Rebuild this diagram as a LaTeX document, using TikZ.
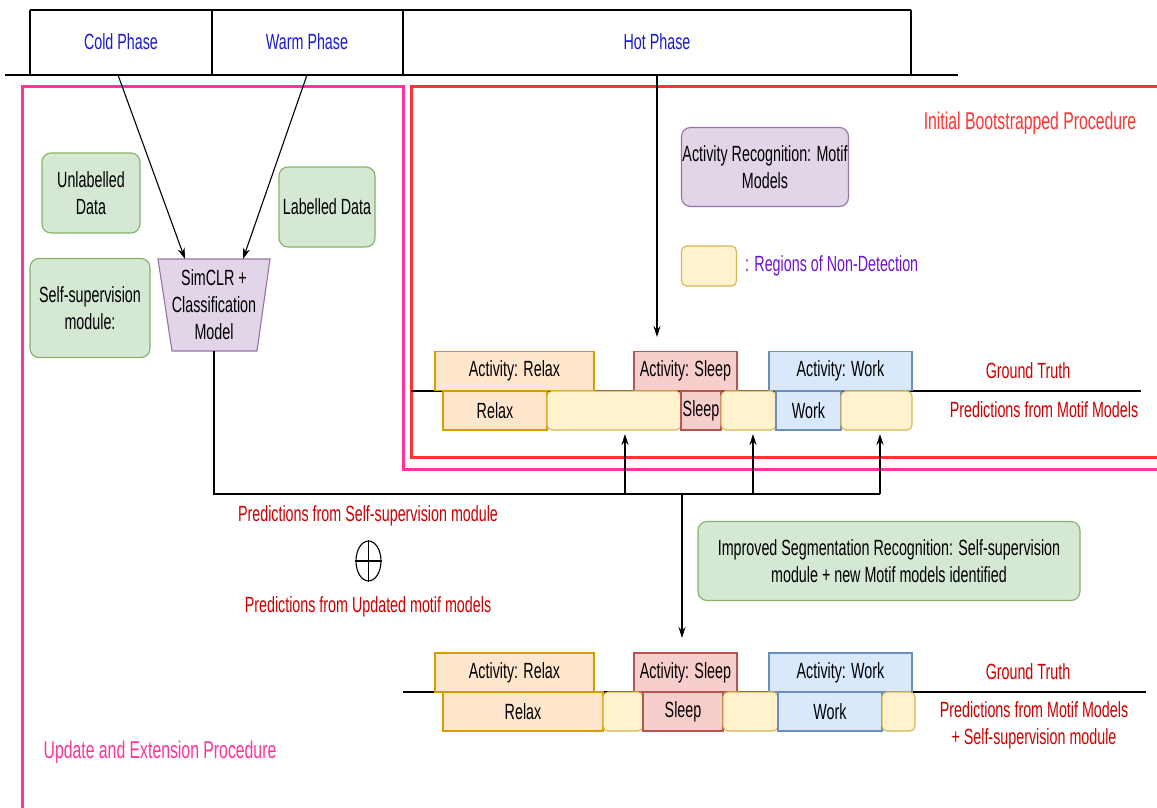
\documentclass[tikz,border=0pt]{standalone}
\usepackage{fontspec}
\setmainfont{Liberation Sans}[FakeStretch=0.65]
\usetikzlibrary{arrows.meta,shapes.geometric}

\definecolor{greenF}{HTML}{D5E8D4}\definecolor{greenD}{HTML}{82B366}
\definecolor{purpF}{HTML}{E1D5E7}\definecolor{purpD}{HTML}{9673A6}
\definecolor{yelF}{HTML}{FFF2CC}\definecolor{yelD}{HTML}{D6B656}
\definecolor{orF}{HTML}{FFE6CC}\definecolor{orD}{HTML}{D79B00}
\definecolor{redF}{HTML}{F8CECC}\definecolor{redD}{HTML}{B85450}
\definecolor{bluF}{HTML}{DAE8FC}\definecolor{bluD}{HTML}{6C8EBF}
\definecolor{frameP}{HTML}{FF3399}
\definecolor{frameR}{HTML}{FF3333}
\definecolor{lblred}{HTML}{CC0000}
\definecolor{phaseblue}{RGB}{25,25,215}
\definecolor{legendviolet}{RGB}{110,20,210}

\begin{document}
\begin{tikzpicture}[x=1pt,y=-1pt,
  every node/.style={font=\fontsize{22}{27}\selectfont, inner sep=0pt, align=center},
  framelbl/.style={font=\fontsize{24.3}{29}\selectfont},
  wire/.style={line width=1.1pt, black},
  arr/.style={wire, -{Stealth[length=11pt,width=7pt]}},
  frame/.style={line width=3pt},
  rbox/.style={draw, line width=1.1pt, rounded corners=9pt},
  greenbox/.style={rbox, fill=greenF, draw=greenD},
  purplebox/.style={rbox, fill=purpF, draw=purpD},
  seg/.style={draw, line width=1.1pt, minimum height=39},
  relaxseg/.style={seg, fill=orF, draw=orD},
  sleepseg/.style={seg, fill=redF, draw=redD},
  workseg/.style={seg, fill=bluF, draw=bluD},
  gapseg/.style={seg, fill=yelF, draw=yelD, rounded corners=5pt},
  redlbl/.style={text=lblred},
  phase/.style={text=phaseblue}]
\useasboundingbox (0,0) rectangle (1157,808);

% ---- phase header ----
\draw[line width=1.4pt] (30,10) -- (911,10);
\foreach \x in {30,212,403,911} \draw[line width=1.1pt] (\x,10) -- (\x,75);
\draw[line width=1.4pt] (5,75) -- (958,75);
\node[phase] (cold) at (121,42) {Cold Phase};
\node[phase] (warm) at (307,42) {Warm Phase};
\node[phase] (hot)  at (657,42) {Hot Phase};

% ---- procedure frames ----
\draw[frame, frameP] (1160,469) -- (403,469) -- (403,87) -- (22,87) -- (22,809) -- (1160,809);
\draw[frame, frameR] (1160,87) -- (411,87) -- (411,457) -- (1160,457);
\node[framelbl, text=frameR] (initlbl) at (1030,123) {Initial Bootstrapped Procedure};
\node[framelbl, text=frameP] (updlbl) at (160,752) {Update and Extension Procedure};

% ---- self-supervision side ----
\node[greenbox, minimum width=98, minimum height=80] (unlab) at (91,193) {Unlabelled\\Data};
\node[greenbox, minimum width=96, minimum height=80] (lab) at (327,207) {Labelled Data};
\node[greenbox, minimum width=120, minimum height=99] (ssm) at (90,308) {Self-supervision\\module:};
\draw[line width=1.1pt, fill=purpF, draw=purpD] (158,259) -- (270,259) -- (257,351) -- (172,351) -- cycle;
\node[minimum width=112, minimum height=92] (sim) at (214,305) {SimCLR +\\Classification\\Model};

% ---- motif models and legend ----
\node[purplebox, minimum width=167, minimum height=79] (motif) at (765,167) {Activity Recognition: Motif\\Models};
\node[gapseg, minimum width=55, minimum height=40] (legbox) at (709,266) {};
\node[text=legendviolet, anchor=west] (legtxt) at (745,266) {: Regions of Non-Detection};

% ---- upper timeline ----
\draw[line width=1.1pt] (411,391) -- (1141,391);
\node[relaxseg, minimum width=159] (gtr1) at (514.5,371) {Activity: Relax};
\node[sleepseg, minimum width=103] (gts1) at (685.5,371) {Activity: Sleep};
\node[workseg,  minimum width=143] (gtw1) at (840.5,371) {Activity: Work};
\node[relaxseg, minimum width=104] (pr1) at (495,410.5) {Relax};
\node[gapseg,   minimum width=134] (pg1) at (614,410.5) {};
\node[sleepseg, minimum width=40]  (ps1) at (701,410.5) {Sleep};
\node[gapseg,   minimum width=55]  (pg2) at (748.5,410.5) {};
\node[workseg,  minimum width=65]  (pw1) at (808.5,410.5) {Work};
\node[gapseg,   minimum width=71]  (pg3) at (876.5,410.5) {};
\node[redlbl] (gtlbl1) at (1028,371) {Ground Truth};
\node[redlbl] (prlbl1) at (1044,410) {Predictions from Motif Models};

% ---- combination ----
\node[redlbl] (sslbl) at (368,516) {Predictions from Self-supervision module};
\node[draw, ellipse, line width=1.1pt, minimum width=25, minimum height=40] (oplus) at (368.5,561) {};
\draw[wire] (oplus.north) -- (oplus.south);
\draw[wire] (oplus.west) -- (oplus.east);
\node[redlbl] (updmlbl) at (368,607) {Predictions from Updated motif models};
\node[greenbox, minimum width=382, minimum height=79] (improved) at (889,561) {Improved Segmentation Recognition: Self-supervision\\module + new Motif models identified};

% ---- lower timeline ----
\draw[line width=1.1pt] (403,692) -- (1146,692);
\node[relaxseg, minimum width=159] (gtr2) at (514.5,672.5) {Activity: Relax};
\node[sleepseg, minimum width=103] (gts2) at (685.5,672.5) {Activity: Sleep};
\node[workseg,  minimum width=143] (gtw2) at (840.5,672.5) {Activity: Work};
\node[relaxseg, minimum width=160] (pr2) at (523,711.5) {Relax};
\node[gapseg,   minimum width=40]  (pg4) at (623,711.5) {};
\node[sleepseg, minimum width=80]  (ps2) at (683,711.5) {Sleep};
\node[gapseg,   minimum width=55]  (pg5) at (750.5,711.5) {};
\node[workseg,  minimum width=104] (pw2) at (830,711.5) {Work};
\node[gapseg,   minimum width=33]  (pg6) at (898.5,711.5) {};
\node[redlbl] (gtlbl2) at (1028,672) {Ground Truth};
\node[redlbl] (prlbl2) at (1034,725) {Predictions from Motif Models\\+ Self-supervision module};

% ---- connectors ----
\coordinate (coldout) at (118,75);
\coordinate (warmout) at (307,75);
\coordinate (hotout)  at (657,75);
\coordinate (simin1)  at (185,259);
\coordinate (simin2)  at (243,259);
\coordinate (hotin)   at (657,337);
\draw[arr] (coldout) -- (simin1);
\draw[arr] (warmout) -- (simin2);
\draw[arr] (hotout) -- (hotin);

\coordinate (j0) at (682,494);
\coordinate (j1) at (625,494);
\coordinate (j2) at (753,494);
\coordinate (j3) at (880,494);
\coordinate (t1) at (625,434);
\coordinate (t2) at (753,434);
\coordinate (t3) at (880,434);
\coordinate (down) at (682,638);
\draw[wire] (sim.south) |- (j3);
\draw[arr] (j1) -- (t1);
\draw[arr] (j2) -- (t2);
\draw[arr] (j3) -- (t3);
\draw[arr] (j0) -- (down);
\end{tikzpicture}
\end{document}
